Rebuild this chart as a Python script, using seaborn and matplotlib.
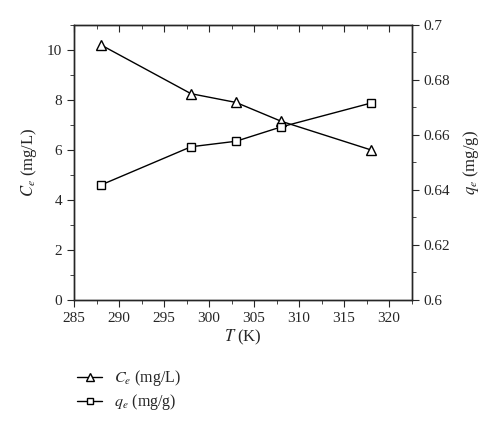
import numpy as np
import pandas as pd
import seaborn as sns
from matplotlib import pyplot as plt
from matplotlib.ticker import MultipleLocator, FuncFormatter
from matplotlib.lines import Line2D

# data
temp = [288, 298, 303, 308, 318]
ce = [10.2, 8.25, 7.9, 7.15, 6.0]
qe = [0.6418, 0.6557, 0.6577, 0.6629, 0.6716]

df = pd.DataFrame({"T": temp, "Ce": ce, "qe": qe})

sns.set_style("ticks")
plt.rcParams["font.family"] = ["Liberation Serif", "DejaVu Serif"]
plt.rcParams["mathtext.fontset"] = "stix"
plt.rcParams["font.size"] = 11

fig = plt.figure(figsize=(5, 4.23), dpi=100)
ax = fig.add_axes([0.148, 0.291, 0.675, 0.650])

sns.lineplot(data=df, x="T", y="Ce", ax=ax, color="black", lw=1,
             marker="^", markersize=6.5, markerfacecolor="white",
             markeredgecolor="black", markeredgewidth=1)
ax.set_xlim(285, 322.5)
ax.set_ylim(0, 11)
ax.xaxis.set_major_locator(MultipleLocator(5))
ax.xaxis.set_minor_locator(MultipleLocator(2.5))
ax.yaxis.set_major_locator(MultipleLocator(2))
ax.yaxis.set_minor_locator(MultipleLocator(1))
ax.set_xlabel(r"$T$ (K)", fontsize=12, labelpad=2)
ax.set_ylabel(r"$C_e$ (mg/L)", fontsize=12, labelpad=6)

ax2 = ax.twinx()
sns.lineplot(data=df, x="T", y="qe", ax=ax2, color="black", lw=1,
             marker="s", markersize=5.5, markerfacecolor="white",
             markeredgecolor="black", markeredgewidth=1)
ax2.set_ylim(0.6, 0.7)
ax2.yaxis.set_major_locator(MultipleLocator(0.02))
ax2.yaxis.set_minor_locator(MultipleLocator(0.01))
ax2.yaxis.set_major_formatter(FuncFormatter(lambda v, p: f"{v:.2f}".rstrip("0")))
ax2.set_ylabel(r"$q_e$ (mg/g)", fontsize=12, labelpad=8, rotation=90)
ax2.set_xlabel("")

for a in (ax, ax2):
    for s in a.spines.values():
        s.set_visible(True)
        s.set_linewidth(1)
    a.tick_params(which="both", direction="out", labelsize=11)
    a.tick_params(which="major", length=5)
    a.tick_params(which="minor", length=3)
ax.tick_params(axis="x", which="both", bottom=True, top=False)
ax.tick_params(axis="y", which="both", left=True, right=False)
ax2.tick_params(axis="y", which="both", right=True, left=False)

# inward ticks on the top spine, drawn by the twin's x axis
ax2.xaxis.set_visible(True)
ax2.xaxis.set_major_locator(MultipleLocator(5))
ax2.xaxis.set_minor_locator(MultipleLocator(2.5))
ax2.tick_params(axis="x", which="both", direction="in", top=True,
                bottom=False, labeltop=False, labelbottom=False)
ax2.set_xlim(285, 322.5)

handles = [
    Line2D([], [], color="black", lw=1, marker="^", markersize=6,
           markerfacecolor="white", markeredgecolor="black"),
    Line2D([], [], color="black", lw=1, marker="s", markersize=5,
           markerfacecolor="white", markeredgecolor="black"),
]
fig.legend(handles, [r"$C_e$ (mg/L)", r"$q_e$ (mg/g)"], loc="upper left",
           bbox_to_anchor=(0.125, 0.163), frameon=False, fontsize=11.5,
           handlelength=1.6, handletextpad=0.7, labelspacing=0.25)

fig.savefig("out.png", dpi=100)
